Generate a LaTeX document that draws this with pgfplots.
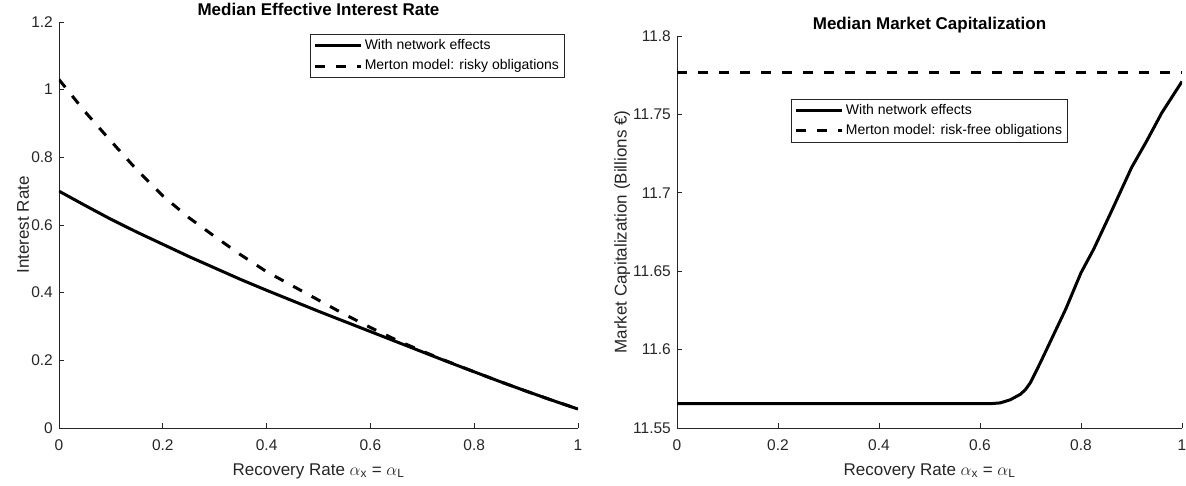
\documentclass[border=0pt]{standalone}
\usepackage{pgfplots}
\pgfplotsset{compat=1.18}
\usepackage{fontspec}
\setmainfont{Liberation Sans}
\definecolor{mg}{RGB}{38,38,38}
\begin{document}
\begin{tikzpicture}
\path[use as bounding box] (0pt,0pt) rectangle (1186pt,486pt);
\pgfplotsset{
  mstyle/.style={
    scale only axis,
    axis lines=left,
    axis line style={-, draw=mg, line width=0.9pt},
    tick align=inside,
    major tick length=5pt,
    tick style={draw=mg, line width=0.9pt},
    xmin=0, xmax=1,
    xtick={0,0.2,0.4,0.6,0.8,1},
    ticklabel style={font=\fontsize{15.5}{18}\selectfont, text=mg},
    /pgf/number format/assume math mode=true,
    xticklabel style={anchor=base, yshift=-23pt},
    yticklabel style={anchor=east, inner sep=0pt, xshift=-6pt},
    label style={font=\fontsize{17}{20}\selectfont, text=mg},
    title style={font=\bfseries\fontsize{17}{20}\selectfont, at={(axis description cs:0.5,1)}, anchor=base, yshift=0pt},
    legend style={font=\fontsize{14}{16}\selectfont, draw=mg, line width=0.6pt,
      inner xsep=3.5pt, inner ysep=1.4pt,
      nodes={inner xsep=2.2pt, inner ysep=3.3pt, text height=10.5pt, text depth=3pt},
      cells={anchor=west}},
    legend image code/.code={\draw[#1] (0pt,0pt) -- (46pt,0pt);},
  },
  sstyle/.style={black, solid, no markers, line width=3pt},
  dstyle/.style={black, no markers, line width=3pt, dash pattern=on 10pt off 11pt},
}
\begin{axis}[mstyle,
  at={(59pt,58pt)}, anchor=south west,
  width=519pt, height=406pt,
  ymin=0, ymax=1.2,
  ytick={0,0.2,0.4,0.6,0.8,1,1.2},
  title={Median Effective Interest Rate},
  xlabel={Recovery Rate $\alpha$\textsubscript{x} = $\alpha$\textsubscript{L}},
  ylabel={Interest Rate},
  xlabel style={at={(axis description cs:0.5,-0.1158)}, anchor=base},
  ylabel style={at={(axis description cs:-0.058,0.5)}, anchor=base},
  legend style={at={(axis description cs:0.975,0.970)}, anchor=north east},
]
\addplot[sstyle] coordinates {
(0.00,0.700) (0.05,0.658) (0.10,0.617) (0.15,0.579) (0.20,0.543)
(0.25,0.507) (0.30,0.473) (0.35,0.439) (0.40,0.407) (0.45,0.376)
(0.50,0.345) (0.55,0.315) (0.60,0.285) (0.65,0.255) (0.70,0.225)
(0.75,0.195) (0.80,0.166) (0.85,0.137) (0.90,0.109) (0.95,0.082)
(1.00,0.056)};
\addlegendentry{With network effects}
\addplot[dstyle] coordinates {
(0.00,1.030) (0.05,0.935) (0.10,0.848) (0.15,0.763) (0.20,0.686)
(0.25,0.622) (0.30,0.566) (0.35,0.512) (0.40,0.462) (0.45,0.420)
(0.50,0.378) (0.55,0.336) (0.60,0.297) (0.65,0.260) (0.70,0.227)
(0.75,0.196) (0.80,0.166) (0.85,0.137) (0.90,0.109) (0.95,0.082)
(1.00,0.056)};
\addlegendentry{Merton model: risky obligations}
\end{axis}
\begin{axis}[mstyle,
  at={(677pt,58pt)}, anchor=south west,
  width=505pt, height=392pt,
  ymin=11.55, ymax=11.8,
  ytick={11.55,11.6,11.65,11.7,11.75,11.8},
  scaled y ticks=false,
  yticklabel style={/pgf/number format/fixed, /pgf/number format/precision=2},
  title={Median Market Capitalization},
  xlabel={Recovery Rate $\alpha$\textsubscript{x} = $\alpha$\textsubscript{L}},
  ylabel={Market Capitalization (Billions €)},
  xlabel style={at={(axis description cs:0.5,-0.12)}, anchor=base},
  ylabel style={at={(axis description cs:-0.1,0.5)}, anchor=base},
  legend style={at={(axis description cs:0.5,0.839)}, anchor=north},
]
\addplot[sstyle] coordinates {
(0.00,11.5655) (0.62,11.5655) (0.64,11.5660) (0.66,11.5680) (0.68,11.5715)
(0.69,11.5745) (0.70,11.5790) (0.72,11.5920) (0.745,11.6090) (0.77,11.6260)
(0.80,11.6490) (0.825,11.6640) (0.86,11.6880) (0.90,11.7160) (0.93,11.7330)
(0.96,11.7510) (1.00,11.7710)};
\addlegendentry{With network effects}
\addplot[dstyle] coordinates {(0,11.777) (1,11.777)};
\addlegendentry{Merton model: risk-free obligations}
\end{axis}
\end{tikzpicture}
\end{document}
